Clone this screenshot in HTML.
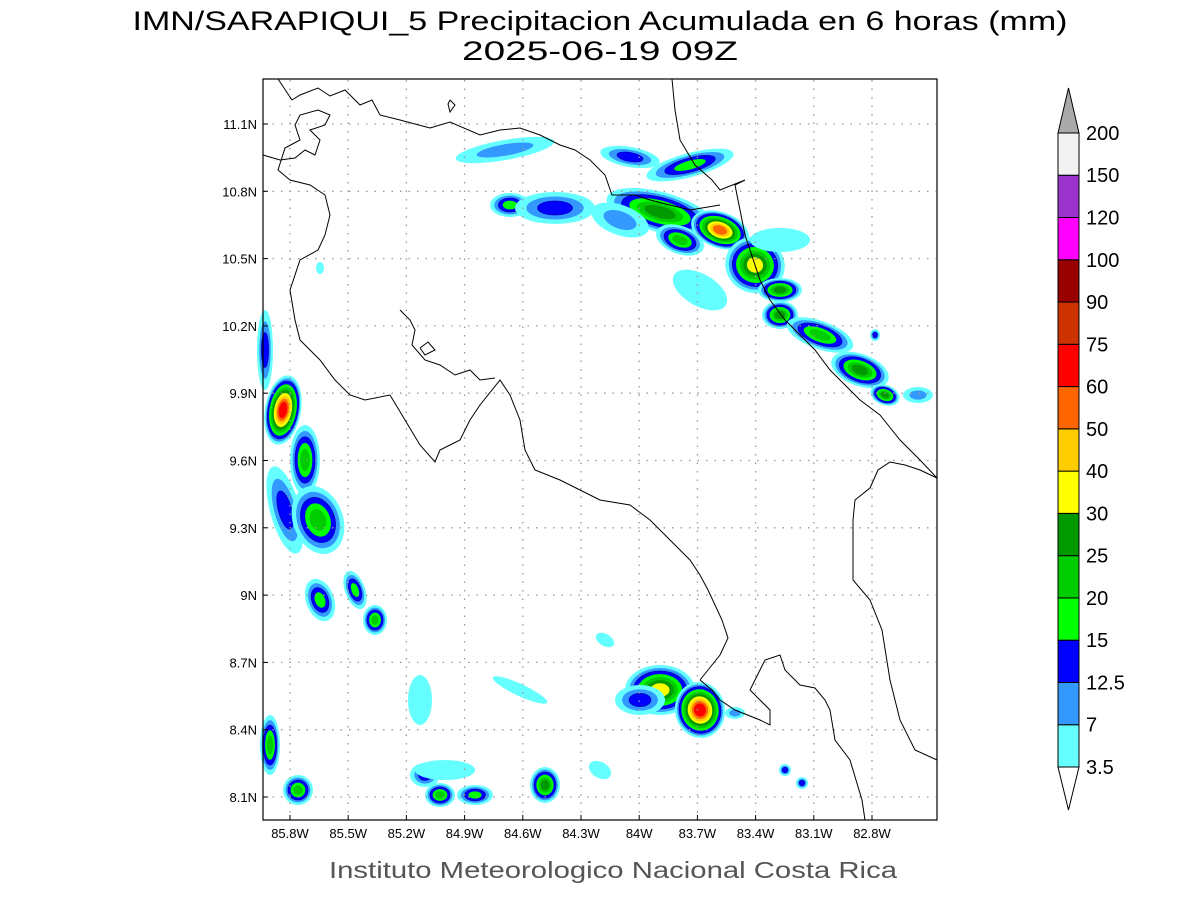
<!DOCTYPE html>
<html><head><meta charset="utf-8"><style>
html,body{margin:0;padding:0;background:#fff;width:1200px;height:900px;overflow:hidden}
svg text{font-family:"Liberation Sans",sans-serif}
</style></head><body>
<svg id="s" width="1200" height="900" viewBox="0 0 1200 900" xmlns="http://www.w3.org/2000/svg">
<rect width="1200" height="900" fill="#fff"/>
<text x="600" y="30" font-size="27" text-anchor="middle" fill="#000" font-family="Liberation Sans" textLength="935" lengthAdjust="spacingAndGlyphs">IMN/SARAPIQUI_5 Precipitacion Acumulada en 6 horas (mm)</text>
<text x="600" y="60" font-size="27" text-anchor="middle" fill="#000" textLength="276" lengthAdjust="spacingAndGlyphs">2025-06-19 09Z</text>
<g id="blobs"></g>
<g id="grid" stroke="#999" stroke-width="1.3" stroke-dasharray="1.5,7"></g>
<g fill="none" stroke="#000" stroke-width="1">
<polyline points="278,79 292,100 300,95 318,88 330,96 345,90 360,105 372,100 380,115 400,120 430,128 450,122 480,135 500,130 520,128 540,135 560,145 575,150 590,160 605,175 612,195 635,195 650,200 670,205 690,210 720,205"/>
<polyline points="672,79 675,110 680,140 695,165 712,180 720,190 745,180 735,185 740,210 745,235 760,280 770,300 785,320 800,335 815,350 830,370 845,385 860,400 880,415 900,440 920,460 937,478"/>
<polyline points="263,155 280,160 295,158 305,150 315,155 320,140 310,130 325,125 330,115 318,110 300,115 295,125 300,140 285,148 278,170 290,180 310,185 325,195 330,215 325,235 318,250 300,260 290,290 295,320 300,340 320,360 335,380 350,395 365,400 390,395 405,420 420,445 435,462 440,450 460,440 470,420 480,405 500,380 510,395 520,420 525,450 535,470 560,480 600,500 630,505 650,520 670,540 690,560 700,575 708,590 715,605 722,620 728,638 720,655 708,670 700,680"/>
<polyline points="400,310 410,320 415,330 412,345 425,360 440,365 455,375 470,370 480,380 495,378"/>
<polyline points="420,348 428,342 435,350 425,355 420,348"/>
<polyline points="450,100 455,105 450,112 448,104 450,100"/>
<polyline points="700,680 712,690 720,700 735,710 760,720 770,725 770,710 760,700 750,690 755,680 765,660 780,655 785,670 800,685 815,688 825,700 830,710 835,740 850,760 862,800 865,820"/>
<polyline points="937,478 920,470 905,465 890,462 878,470 870,488 855,500 853,520 853,580 870,600 882,630 890,680 900,720 915,750 937,760"/>
</g>
<rect x="263" y="79" width="674" height="741" fill="none" stroke="#000" stroke-width="1.2"/>
<g id="ticks" stroke="#000" stroke-width="1"></g>
<g id="labels" font-size="13" fill="#000"></g>
<text x="613" y="878" font-size="23" text-anchor="middle" fill="#555" textLength="568" lengthAdjust="spacingAndGlyphs">Instituto Meteorologico Nacional Costa Rica</text>
<g id="cbar" stroke="#000" stroke-width="1"></g>
<g id="cbl" font-size="20" fill="#000"></g>
</svg>
<script>
var NS="http://www.w3.org/2000/svg";
function el(p,t,a,txt){var e=document.createElementNS(NS,t);for(var k in a)e.setAttribute(k,a[k]);if(txt)e.textContent=txt;p.appendChild(e);return e;}
var g=document.getElementById('grid'),tk=document.getElementById('ticks'),lb=document.getElementById('labels');
var lons=["85.8W","85.5W","85.2W","84.9W","84.6W","84.3W","84W","83.7W","83.4W","83.1W","82.8W"];
for(var i=0;i<11;i++){var x=290+i*58.2;el(g,'line',{x1:x,y1:80,x2:x,y2:819});el(tk,'line',{x1:x,y1:820,x2:x,y2:815});
el(lb,'text',{x:x,y:838,'text-anchor':'middle'},lons[i]);}
var lats=["11.1N","10.8N","10.5N","10.2N","9.9N","9.6N","9.3N","9N","8.7N","8.4N","8.1N"];
for(var j=0;j<11;j++){var y=124+j*67.3;el(g,'line',{x1:264,y1:y,x2:936,y2:y});el(tk,'line',{x1:263,y1:y,x2:268,y2:y});
el(lb,'text',{x:257,y:y+5,'text-anchor':'end'},lats[j]);}
var cols=["#66ffff","#3399ff","#0000ff","#00ff00","#00cc00","#009900","#ffff00","#ffcc00","#ff6600","#ff0000","#cc3300","#990000","#ff00ff","#9933cc","#f2f2f2"];
var cb=document.getElementById('cbar'),cl=document.getElementById('cbl');
var labs=["3.5","7","12.5","15","20","25","30","40","50","60","75","90","100","120","150","200"];
for(var k=0;k<15;k++){var y0=767-(k+1)*42.27;el(cb,'rect',{x:1058,y:y0,width:21,height:42.27,fill:cols[k]});}
el(cb,'polygon',{points:"1058,133 1079,133 1068.5,88",fill:"#aaaaaa"});
el(cb,'polygon',{points:"1058,767 1079,767 1068.5,810",fill:"#fff"});
for(var k=0;k<16;k++){el(cl,'text',{x:1086,y:767-k*42.27+7},labs[k]);}
// blobs: cx,cy,rx,ry,rot,n levels
var B=[
[505,150,50,10,-10,2],[630,157,30,10,10,3],[690,165,45,12,-15,4],[510,205,20,12,0,4],[555,208,40,16,0,3],
[660,212,55,20,15,6],[720,230,30,18,20,9],[680,240,25,14,20,5],[755,265,30,28,20,7],[780,290,22,12,0,6],
[780,315,18,14,0,6],[820,335,35,14,20,5],[860,370,30,16,20,6],[885,395,15,10,20,6],[918,395,15,8,0,2],
[620,220,30,15,20,2],[700,290,30,16,30,1],[780,240,30,12,0,1],
[283,410,18,35,10,10],[265,350,8,40,0,3],[305,460,15,35,0,5],[285,510,15,45,-15,3],[318,520,25,35,-20,5],
[320,600,14,22,-20,4],[355,590,10,20,-20,4],[375,620,12,15,0,5],[270,745,10,30,0,5],[298,790,15,15,0,5],
[660,690,35,25,0,7],[700,710,25,28,-10,10],[640,700,25,15,0,3],[735,713,10,6,0,2],[605,640,10,6,30,1],
[545,785,15,18,0,6],[440,795,15,12,0,5],[475,795,18,10,0,4],[425,775,15,12,0,3],[520,690,30,6,25,1],[600,770,12,8,30,1],
[420,700,12,25,0,1],[445,770,30,10,0,1],[785,770,6,6,0,3],[802,783,6,6,0,3],[320,268,4,6,0,1],[875,335,5,6,0,3]];
var bl=document.getElementById('blobs');
B.forEach(function(b){var n=b[5];for(var l=0;l<n;l++){var f=1-l*(0.85/Math.max(n,1));
el(bl,'ellipse',{cx:b[0],cy:b[1],rx:b[2]*f,ry:b[3]*f,transform:'rotate('+b[4]+' '+b[0]+' '+b[1]+')',fill:cols[l],stroke:l==2?'#0000cc':'none','stroke-width':1});}});
</script>
</body></html>
